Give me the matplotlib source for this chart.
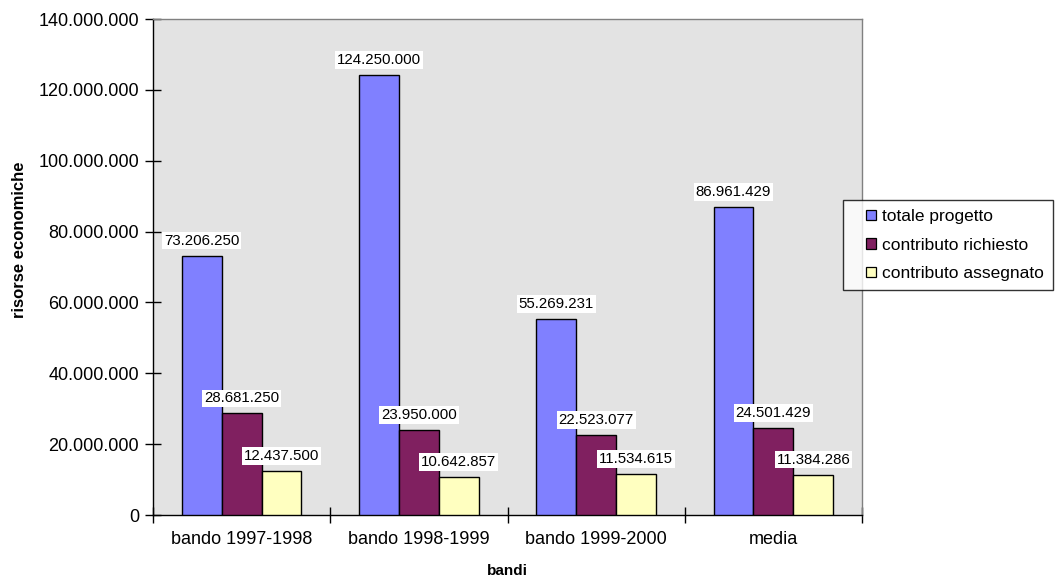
import matplotlib
matplotlib.use("Agg")
import matplotlib.pyplot as plt
import numpy as np
from matplotlib.ticker import FuncFormatter, FixedLocator
from matplotlib.legend_handler import HandlerBase
from matplotlib.patches import Rectangle
from matplotlib.container import BarContainer

plt.rcParams['font.family'] = ['Liberation Sans', 'DejaVu Sans']

categories = ["bando 1997-1998", "bando 1998-1999", "bando 1999-2000", "media"]
series_names = ["totale progetto", "contributo richiesto", "contributo assegnato"]
totale_progetto = [73206250, 124250000, 55269231, 86961429]
contributo_richiesto = [28681250, 23950000, 22523077, 24501429]
contributo_assegnato = [12437500, 10642857, 11534615, 11384286]
colors = ["#8080FF", "#802060", "#FFFFC0"]


def fmt_it(v):
    return f"{int(round(v)):,}".replace(",", ".")


class SmallSquare(HandlerBase):
    """Legend key: small outlined square at the right end of the handle box."""

    def create_artists(self, legend, orig_handle, xdescent, ydescent,
                       width, height, fontsize, trans):
        src = orig_handle.patches[0] if isinstance(orig_handle, BarContainer) else orig_handle
        s = 7.4
        r = Rectangle((width - xdescent - s, (height - s) / 2 - ydescent), s, s,
                      facecolor=src.get_facecolor(),
                      edgecolor="black", linewidth=0.9, transform=trans)
        return [r]


fig = plt.figure(figsize=(10.6, 5.78), dpi=100)
ax = fig.add_axes([153 / 1060, 63 / 578, 709 / 1060, 496 / 578])
ax.set_facecolor("#E3E3E3")

x = np.arange(len(categories))
w = 0.225
for i, (vals, name, c) in enumerate(zip(
        [totale_progetto, contributo_richiesto, contributo_assegnato],
        series_names, colors)):
    pos = x + (i - 1) * w
    ax.bar(pos, vals, width=w, color=c, edgecolor="black", linewidth=1.0,
           label=name, zorder=3)
    for px, v in zip(pos, vals):
        ax.annotate(fmt_it(v), xy=(px, v), xytext=(0, 15),
                    textcoords="offset pixels",
                    ha="center", va="center", fontsize=10.8, zorder=5,
                    bbox=dict(boxstyle="square,pad=0.12", facecolor="white",
                              edgecolor="none"))

ax.set_xlim(-0.5, len(categories) - 0.5)
ax.set_ylim(0, 140000000)
ax.set_yticks(np.arange(0, 140000001, 20000000))
ax.yaxis.set_major_formatter(FuncFormatter(lambda v, p: fmt_it(v)))
ax.set_xticks(x)
ax.set_xticklabels(categories, fontsize=13)
ax.xaxis.set_minor_locator(FixedLocator(np.arange(-0.5, len(categories), 1.0)))
ax.tick_params(axis="x", which="major", length=0, pad=11.5)
ax.tick_params(axis="x", which="minor", direction="inout", length=11, width=1)
ax.tick_params(axis="y", direction="inout", length=12, width=1, labelsize=13, pad=4)

for s in ["left", "bottom"]:
    ax.spines[s].set_color("black")
    ax.spines[s].set_linewidth(1.0)
for s in ["top", "right"]:
    ax.spines[s].set_color("#808080")
    ax.spines[s].set_linewidth(1.0)

ax.set_ylabel("risorse economiche", fontsize=12, fontweight="bold", va="center")
ax.yaxis.set_label_coords((20 - 153) / 709, (515 - 240) / 496)
ax.set_xlabel("bandi", fontsize=11, fontweight="bold", va="center")
ax.xaxis.set_label_coords(0.5, (515 - 571) / 496)

handles, labels = ax.get_legend_handles_labels()
leg = fig.legend(handles, labels, loc="upper left",
                 bbox_to_anchor=(843 / 1060, 1 - 200 / 578),
                 fontsize=12.5, frameon=True, fancybox=False, edgecolor="black",
                 handlelength=1.4, handleheight=0.7, handletextpad=0.35,
                 borderpad=0.5, labelspacing=0.78, borderaxespad=0,
                 handler_map={BarContainer: SmallSquare()})
leg.get_frame().set_linewidth(1.0)

fig.savefig("out.png", dpi=100)
